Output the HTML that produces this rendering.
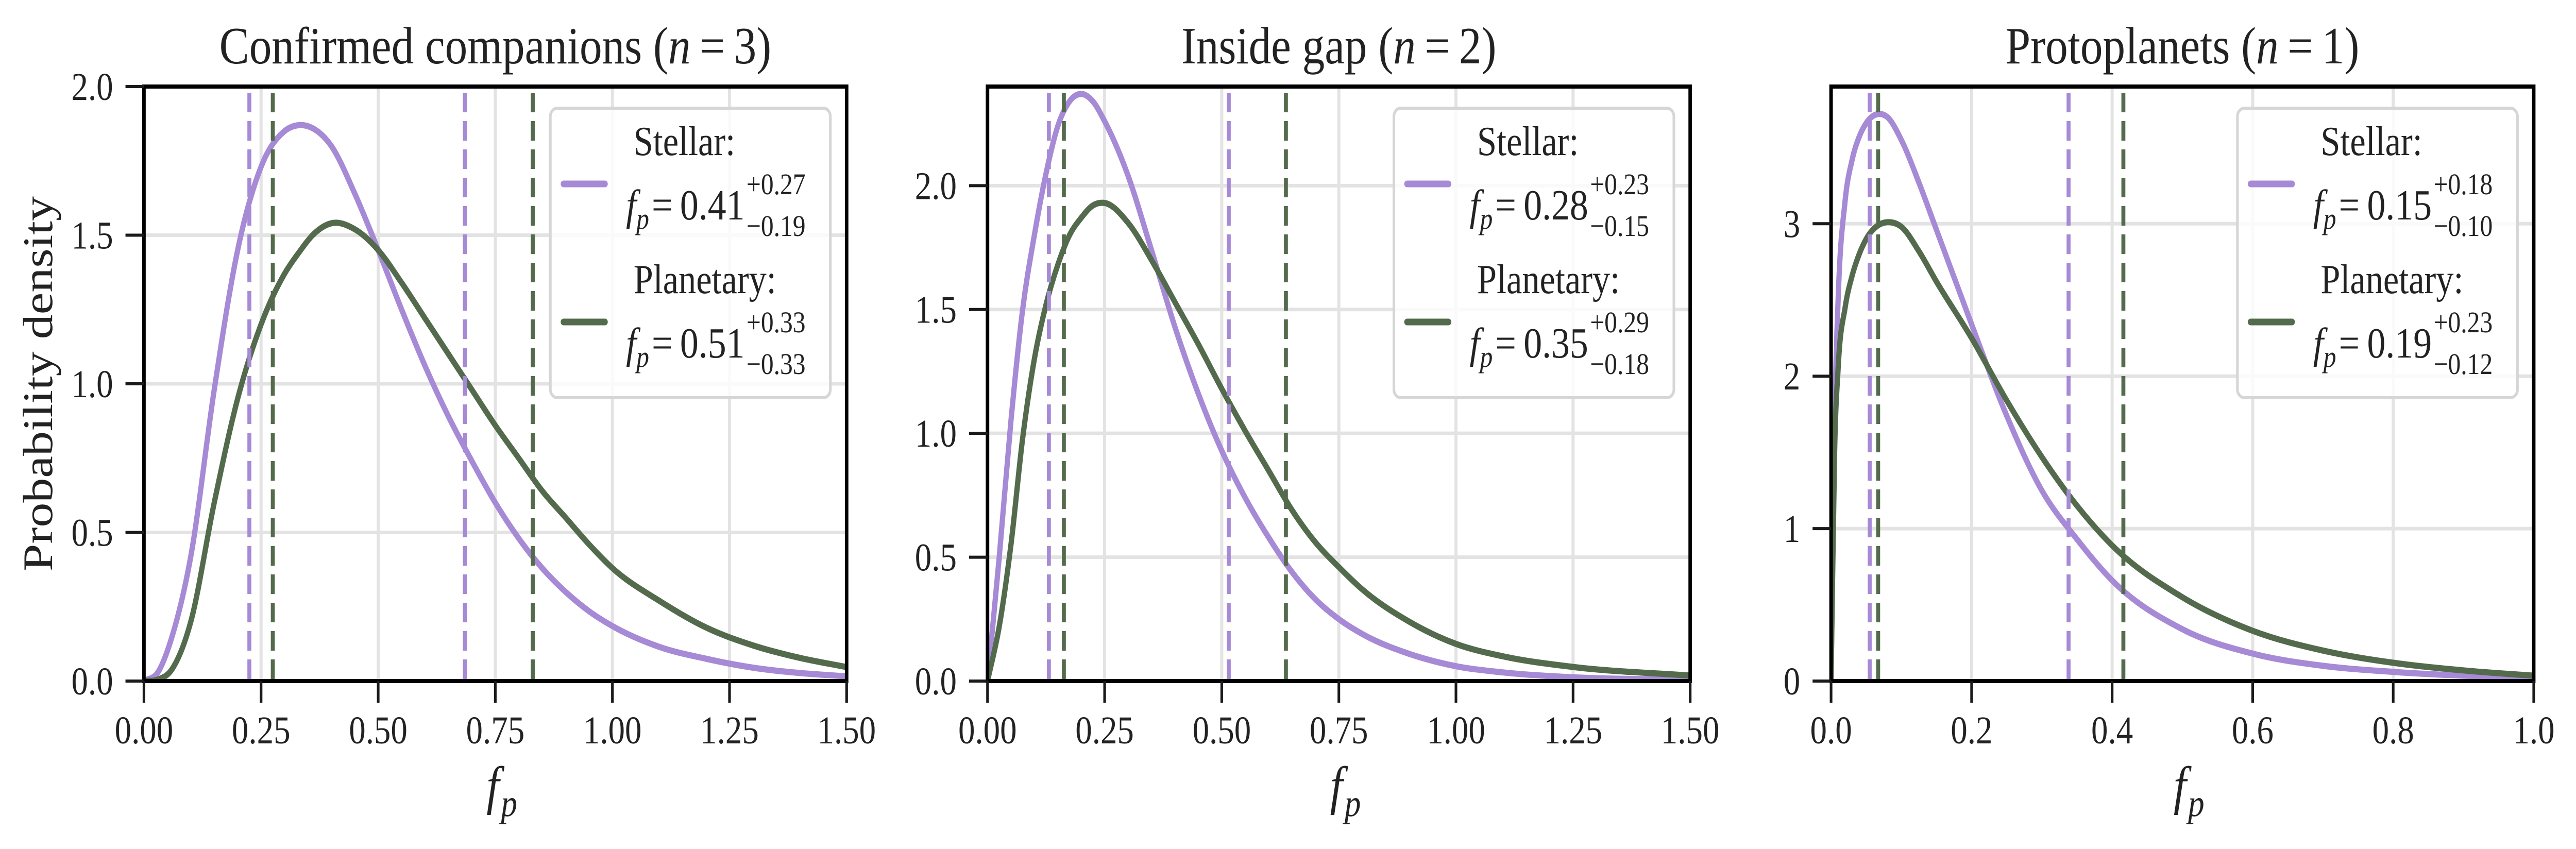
<!DOCTYPE html>
<html><head><meta charset="utf-8">
<style>
html,body{margin:0;padding:0;background:#fff;overflow:hidden;width:100%;height:100%;}
svg{display:block;width:100vw;height:100vh;}
text{font-family:"Liberation Serif","DejaVu Serif",serif;fill:#222;}
</style></head>
<body>
<svg id="fig" viewBox="0 0 5851 1648" preserveAspectRatio="none" xmlns="http://www.w3.org/2000/svg">
<defs>
<clipPath id="c0"><rect x="327" y="168" width="1596" height="1154"/></clipPath>
<clipPath id="c1"><rect x="2243" y="168" width="1596" height="1154"/></clipPath>
<clipPath id="c2"><rect x="4159" y="168" width="1596" height="1154"/></clipPath>
</defs>
</svg>
<script>
// ---- Panel 1: Confirmed companions ----
const p1X = [0,0.03,0.06,0.1,0.15,0.2,0.25,0.3,0.33,0.36,0.4,0.45,0.5,0.55,0.6,0.65,0.7,0.75,0.8,0.85,0.9,0.95,1.0,1.1,1.2,1.3,1.4,1.5];
const p1Stellar = [0,0.03,0.15,0.42,0.98,1.45,1.73,1.85,1.87,1.86,1.8,1.64,1.45,1.25,1.06,0.89,0.74,0.6,0.48,0.38,0.3,0.235,0.185,0.115,0.075,0.045,0.027,0.016];
const p1Planetary = [0,0.005,0.04,0.2,0.6,0.95,1.2,1.37,1.44,1.5,1.54,1.52,1.45,1.34,1.22,1.1,0.98,0.86,0.75,0.64,0.55,0.46,0.38,0.27,0.18,0.12,0.078,0.047];
const p1StellarCI = [0.225,0.685];
const p1PlanetaryCI = [0.275,0.83];
// ---- Panel 2: Inside gap ----
const p2X = [0,0.025,0.05,0.075,0.1,0.125,0.15,0.175,0.2,0.225,0.25,0.3,0.35,0.4,0.45,0.5,0.55,0.6,0.65,0.7,0.75,0.8,0.9,1.0,1.1,1.25,1.5];
const p2Stellar = [0,0.5,1.05,1.5,1.8,2.05,2.24,2.34,2.37,2.34,2.26,2.04,1.74,1.43,1.16,0.93,0.74,0.58,0.44,0.33,0.25,0.19,0.11,0.06,0.035,0.015,0.005];
const p2Planetary = [0,0.22,0.55,0.98,1.3,1.52,1.68,1.8,1.87,1.92,1.93,1.85,1.7,1.53,1.36,1.18,1.01,0.85,0.69,0.56,0.46,0.37,0.24,0.15,0.1,0.057,0.022];
const p2StellarCI = [0.131,0.515];
const p2PlanetaryCI = [0.163,0.637];
// ---- Panel 3: Protoplanets ----
const p3X = [0,0.005,0.01,0.02,0.03,0.04,0.05,0.067,0.08,0.1,0.125,0.15,0.2,0.25,0.3,0.35,0.4,0.5,0.6,0.7,0.8,0.9,1.0];
const p3Stellar = [0,1.7,2.5,3.15,3.42,3.57,3.66,3.72,3.7,3.55,3.27,2.96,2.34,1.74,1.25,0.93,0.66,0.34,0.18,0.1,0.06,0.035,0.02];
const p3Planetary = [0,1.5,2.05,2.45,2.66,2.8,2.9,2.99,3.01,2.98,2.82,2.62,2.25,1.84,1.47,1.15,0.89,0.55,0.33,0.2,0.12,0.07,0.035];
const p3StellarCI = [0.055,0.338];
const p3PlanetaryCI = [0.067,0.416];
// ---- ticks ----
const xTicks12 = [0,0.25,0.5,0.75,1.0,1.25,1.5];
const xTickLabels12 = ["0.00","0.25","0.50","0.75","1.00","1.25","1.50"];
const yTicks12 = [0,0.5,1.0,1.5,2.0];
const yTickLabels12 = ["0.0","0.5","1.0","1.5","2.0"];
const xTicks3 = [0,0.2,0.4,0.6,0.8,1.0];
const xTickLabels3 = ["0.0","0.2","0.4","0.6","0.8","1.0"];
const yTicks3 = [0,1,2,3];
const yTickLabels3 = ["0","1","2","3"];
const titles = ["Confirmed companions (","Inside gap (","Protoplanets ("];
const nValues = ["3","2","1"];
const legendMedians = [["0.41","0.51"],["0.28","0.35"],["0.15","0.19"]];
const legendPlus = [["+0.27","+0.33"],["+0.23","+0.29"],["+0.18","+0.23"]];
const legendMinus = [["\u22120.19","\u22120.33"],["\u22120.15","\u22120.18"],["\u22120.10","\u22120.12"]];

const PURPLE="#a68ad5", GREEN="#536b4c";
const NS="http://www.w3.org/2000/svg";
const svg=document.getElementById('fig');
function mk(tag,attrs,parent){const e=document.createElementNS(NS,tag);for(const k in attrs)e.setAttribute(k,attrs[k]);(parent||svg).appendChild(e);return e;}

function smoothPath(xs,ys,sx,sy){
  const n=xs.length;const px=xs.map(sx),py=ys.map(sy);
  const m=[];
  for(let i=0;i<n;i++){
    if(i===0) m[i]=(py[1]-py[0])/(px[1]-px[0]);
    else if(i===n-1) m[i]=(py[n-1]-py[n-2])/(px[n-1]-px[n-2]);
    else{const h0=px[i]-px[i-1],h1=px[i+1]-px[i];const d0=(py[i]-py[i-1])/h0,d1=(py[i+1]-py[i])/h1;m[i]=(d0*h1+d1*h0)/(h0+h1);}
  }
  let s="M"+px[0].toFixed(1)+","+py[0].toFixed(1);
  for(let i=0;i<n-1;i++){const h=(px[i+1]-px[i])/3;
    s+=" C"+(px[i]+h).toFixed(1)+","+(py[i]+m[i]*h).toFixed(1)+" "+(px[i+1]-h).toFixed(1)+","+(py[i+1]-m[i+1]*h).toFixed(1)+" "+px[i+1].toFixed(1)+","+py[i+1].toFixed(1);}
  return s;
}

const panels=[
 {L:327,xmax:1.5,ymax:2.0,X:p1X,S:p1Stellar,P:p1Planetary,SC:p1StellarCI,PC:p1PlanetaryCI,xt:xTicks12,xl:xTickLabels12,yt:yTicks12,yl:yTickLabels12},
 {L:2243,xmax:1.5,ymax:2.4,X:p2X,S:p2Stellar,P:p2Planetary,SC:p2StellarCI,PC:p2PlanetaryCI,xt:xTicks12,xl:xTickLabels12,yt:yTicks12,yl:yTickLabels12},
 {L:4159,xmax:1.0,ymax:3.9,X:p3X,S:p3Stellar,P:p3Planetary,SC:p3StellarCI,PC:p3PlanetaryCI,xt:xTicks3,xl:xTickLabels3,yt:yTicks3,yl:yTickLabels3}
];
const T=168,B=1322,W=1596,H=B-T;
panels.forEach((p,i)=>{
  const g=mk('g',{});
  
  
  const sx=v=>p.L+v/p.xmax*W, sy=v=>B-v/p.ymax*H;
  p.xt.forEach(v=>{const l=mk('line',{x1:sx(v),x2:sx(v),y1:T,y2:B,stroke:'#e3e3e3','stroke-width':7},g);});
  p.yt.forEach(v=>{const l=mk('line',{x1:p.L,x2:p.L+W,y1:sy(v),y2:sy(v),stroke:'#e3e3e3','stroke-width':7},g);});
  const cg=mk('g',{'clip-path':'url(#c'+i+')'},g);
  const cs=mk('path',{d:smoothPath(p.X,p.S,sx,sy),fill:'none',stroke:PURPLE,'stroke-width':12,'stroke-linejoin':'round'},cg);
  
  const cp=mk('path',{d:smoothPath(p.X,p.P,sx,sy),fill:'none',stroke:GREEN,'stroke-width':12,'stroke-linejoin':'round'},cg);
  
  p.SC.forEach(v=>{const l=mk('line',{x1:sx(v),x2:sx(v),y1:T+12,y2:B,stroke:PURPLE,'stroke-width':9,'stroke-dasharray':'38 17'},cg);});
  p.PC.forEach(v=>{const l=mk('line',{x1:sx(v),x2:sx(v),y1:T+12,y2:B,stroke:GREEN,'stroke-width':9,'stroke-dasharray':'38 17'},cg);});
  const fr=mk('rect',{x:p.L,y:T,width:W,height:H,fill:'none',stroke:'#000','stroke-width':8},g);
  
  p.xt.forEach((v,k)=>{
    const l=mk('line',{x1:sx(v),x2:sx(v),y1:B,y2:B+42,stroke:'#1a1a1a','stroke-width':6},g);
    
    const t=mk('text',{x:sx(v),y:1443,'text-anchor':'middle','font-size':76},g);t.textContent=p.xl[k];
    
  });
  p.yt.forEach((v,k)=>{
    const l=mk('line',{x1:p.L-42,x2:p.L,y1:sy(v),y2:sy(v),stroke:'#1a1a1a','stroke-width':6},g);
    
    const t=mk('text',{x:p.L-70,y:sy(v)+26,'text-anchor':'end','font-size':76},g);t.textContent=p.yl[k];
    
  });
  const tt=mk('text',{x:p.L+W/2,y:123,'text-anchor':'middle','font-size':102},g);
  
  const a=mk('tspan',{},tt);a.textContent=titles[i];
  const b=mk('tspan',{'font-style':'italic'},tt);b.textContent='n';
  const c=mk('tspan',{},tt);c.textContent='\u2009=\u2009'+nValues[i]+')';
  const xl=mk('text',{x:p.L+W/2-20,y:1560,'font-size':104,'font-style':'italic'},g);
  
  const f=mk('tspan',{},xl);f.textContent='f';
  const sp=mk('tspan',{'font-size':74,dy:24,dx:4},xl);sp.textContent='p';
  const lx=p.L+W-37-636, ly=210;
  const lg=mk('g',{},g);
  
  mk('rect',{x:lx,y:ly,width:636,height:562,rx:16,fill:'rgba(255,255,255,0.8)',stroke:'#d6d6d6','stroke-width':6},lg);
  const names=['Stellar:','Planetary:'],cols=[PURPLE,GREEN];
  [0,1].forEach(j=>{
    const off=j*268;
    const ll=mk('line',{x1:lx+30,x2:lx+124,y1:ly+147+off,y2:ly+147+off,stroke:cols[j],'stroke-width':13,'stroke-linecap':'round'},lg);
    
    const t1=mk('text',{x:lx+189,y:ly+91+off,'font-size':80},lg);t1.textContent=names[j];
    
    const t2=mk('text',{x:lx+172,y:ly+216+off,'font-size':84},lg);
    
    const q1=mk('tspan',{'font-style':'italic'},t2);q1.textContent='f';
    const q2=mk('tspan',{'font-style':'italic','font-size':58,dy:18},t2);q2.textContent='p';
    const q3=mk('tspan',{dy:-18,dx:6},t2);q3.textContent='=\u2009'+legendMedians[i][j];
    let ex=lx+461;
    try{const bb=t2.getBBox();if(bb.width>0)ex=bb.x+bb.width+4;}catch(e){}
    const s1=mk('text',{x:ex,y:ly+167+off,'font-size':58},lg);s1.textContent=legendPlus[i][j];
    
    const s2=mk('text',{x:ex,y:ly+248+off,'font-size':58},lg);s2.textContent=legendMinus[i][j];
    
  });
});
const yl=mk('text',{x:0,y:0,'font-size':96,'text-anchor':'middle',transform:'translate(118,745) rotate(-90)'});
yl.textContent='Probability density';


</script>
</body></html>
